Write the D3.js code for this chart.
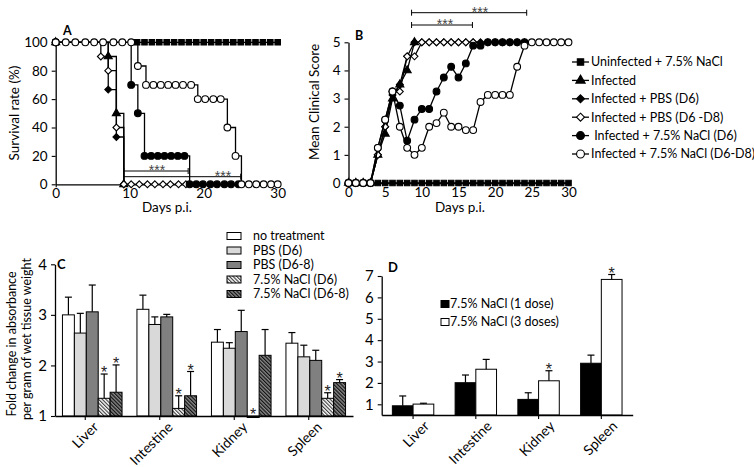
<!DOCTYPE html>
<html><head><meta charset="utf-8">
<script src="https://cdn.jsdelivr.net/npm/d3@7"></script>
<style>
body{margin:0;background:#fff}
svg{display:block;font-family:Lato,"Open Sans",sans-serif}
</style></head><body>
<svg id="c" width="754" height="467"></svg>
<script>
// ================= DATA =================
// Panel A – survival (%) ; marker days and values for each group
const aUninfDays = [0,11,12,13,14,15,16,17,18,19,20,21,22,23,24,25,26,27,28,29,30];
const aUninfVals = [100,100,100,100,100,100,100,100,100,100,100,100,100,100,100,100,100,100,100,100,100];
const aInfDays = [0,7.1,8.2,9.2];
const aInfVals = [100,90,50,0];
const aPbsD6Days = [0,7.1,8.2,9.2];
const aPbsD6Vals = [100,66.7,33.3,0];
const aPbsD68Days = [0,6.1,7.1,8.2,9.2,10.2,11.3,12.4,13.4,14.5,15.5,16.6,17.6];
const aPbsD68Vals = [100,90,80,40,0,0,0,0,0,0,0,0,0];
const aNaclD6Days = [0,10.2,11.1,12,12.9,13.8,14.7,15.6,16.5,17.4,18.1,19,19.9,20.9,21.8,22.8,23.7,24.7];
const aNaclD6Vals = [100,70,50,20,20,20,20,20,20,20,0,0,0,0,0,0,0,0];
const aNaclD68Days = [0,1.35,2.65,4,5.2,6.4,7.8,9,10.2,11.1,12.2,13.2,14.2,15.2,16.2,17.2,18.3,19.2,20.2,21.3,22.3,23.2,24.3,25.1,26.1,27.1,28.1,29.1,30];
const aNaclD68Vals = [100,100,100,100,100,100,100,100,100,83.3,70,70,70,70,70,70,70,60,60,60,60,40,20,0,0,0,0,0,0];
const aXTicks = [0,10,20,30];
const aYTicks = [0,20,40,60,80,100];
const aBrackets = [[9.2,17.9],[9.2,25.0]];

// Panel B – mean clinical score by day
const bUninfDays = [0,1,2,3,4,5,6,7,8,9,10,11,12,13,14,15,16,17,18,19,20,21,22,23,24,25,26,27,28,29,30];
const bUninfVals = [0,0,0,0,0,0,0,0,0,0,0,0,0,0,0,0,0,0,0,0,0,0,0,0,0,0,0,0,0,0,0];
const bInfDays = [0,1,2,3,4,5,6,7,8,9];
const bInfVals = [0,0,0,0,1.0,1.75,3.0,3.5,4.0,5];
const bPbsD6Days = [0,1,2,3,4,5,6,7,8,9,10,11,12,13,14,15,16,17,18,19,20,21,22,23,24];
const bPbsD6Vals = [0,0,0,0,1.0,2.0,3.13,3.5,4.5,5,5,5,5,5,5,5,5,5,5,5,5,5,5,5,5];
const bPbsD68Days = [0,1,2,3,4,5,6,7,8,9,10,11,12,13,14,15,16,17];
const bPbsD68Vals = [0,0,0,0,1.0,2.0,3.25,3.25,4.5,4.5,5,5,5,5,5,5,5,5];
const bNaclD6Days = [0,1,2,3,4,5,6,7,8,9,10,11,12,13,14,15,16,17,18,19,20,21,22,23,24];
const bNaclD6Vals = [0,0,0,0,1.25,2.25,3.25,2.75,1.5,2.25,2.63,2.63,3.25,3.75,4.13,3.75,4.25,4.88,4.88,5,5,5,5,5,5];
const bNaclD68Days = [0,1,2,3,4,5,6,7,8,9,10,11,12,13,14,15,16,17,18,19,20,21,22,23,24,25,26,27,28,29,30];
const bNaclD68Vals = [0,0,0,0,1.25,2.25,3.25,2.0,1.25,1.0,1.25,2.0,2.13,2.5,2.0,2.0,1.88,1.88,2.88,3.13,3.13,3.13,3.13,4.13,4.88,5,5,5,5,5,5];
const bXTicks = [0,5,10,15,20,25,30];
const bYTicks = [0,1,2,3,4,5];
const bBrackets = [[8.6,24.3],[8.6,16.9]];

const seriesNames = ["Uninfected + 7.5% NaCl","Infected","Infected + PBS (D6)","Infected + PBS (D6 -D8)"," Infected + 7.5% NaCl (D6)","Infected + 7.5% NaCl (D6-D8)"];

// Panel C – fold change in absorbance per gram of wet tissue
const cCats = ["Liver","Intestine","Kidney","Spleen"];
const cGroups = ["no treatment","PBS (D6)","PBS (D6-8)","7.5% NaCl (D6)","7.5% NaCl (D6-8)"];
const cNoTreat = [3.0,3.11,2.46,2.44];
const cNoTreatErr = [0.35,0.28,0.25,0.21];
const cPbsD6 = [2.64,2.81,2.34,2.17];
const cPbsD6Err = [0.39,0.15,0.11,0.23];
const cPbsD68 = [3.06,2.96,2.67,2.10];
const cPbsD68Err = [0.53,0.05,0.42,0.20];
const cNaclD6 = [1.35,1.15,0.97,1.35];
const cNaclD6Err = [0.48,0.25,0.0,0.11];
const cNaclD68 = [1.47,1.40,2.20,1.66];
const cNaclD68Err = [0.54,0.48,0.51,0.06];
const cNaclD6Sig = [true,true,true,true];
const cNaclD68Sig = [true,true,false,true];
const cYTicks = [1,2,3,4];

// Panel D
const dCats = ["Liver","Intestine","Kidney","Spleen"];
const dGroups = ["7.5% NaCl (1 dose)","7.5% NaCl (3 doses)"];
const dOneDose = [0.93,2.01,1.23,2.92];
const dOneDoseErr = [0.46,0.36,0.31,0.38];
const dThreeDoses = [1.01,2.64,2.10,6.84];
const dThreeDosesErr = [0.04,0.46,0.47,0.23];
const dOneSig = [false,false,false,false];
const dThreeSig = [false,false,true,true];
const dYTicks = [1,2,3,4,5,6,7];

// ================= DRAW =================
const FONT = "Lato, 'Open Sans', sans-serif";
const STAR_FONT = "'Liberation Sans', Arial, sans-serif";
const svg = d3.select("#c");
const defs = svg.append("defs");
function hatch(id, bg, line, w){
  const p = defs.append("pattern").attr("id",id).attr("patternUnits","userSpaceOnUse")
    .attr("width",2.6).attr("height",2.6).attr("patternTransform","rotate(-45)");
  p.append("rect").attr("width",2.6).attr("height",2.6).attr("fill",bg);
  p.append("line").attr("x1",0.6).attr("x2",0.6).attr("y1",0).attr("y2",2.6).attr("stroke",line).attr("stroke-width",w);
}
hatch("h1","#ffffff","#222",1.0);
hatch("h2","#8a8a8a","#111",1.2);

const diamond = d3.symbolDiamond2 || d3.symbolDiamond;
const styles = [
  {sym:d3.symbolSquare, fill:"#000", size:30},
  {sym:d3.symbolTriangle, fill:"#000", size:28},
  {sym:diamond, fill:"#000", size:30},
  {sym:diamond, fill:"#fff", size:30},
  {sym:d3.symbolCircle, fill:"#000", size:36},
  {sym:d3.symbolCircle, fill:"#fff", size:36}
];

function styleAxis(g, fs){
  g.select(".domain").attr("stroke","#000").attr("stroke-width",1.3);
  g.selectAll(".tick line").attr("stroke","#000").attr("stroke-width",1.1);
  g.selectAll(".tick text").attr("fill","#000").style("font-size",fs+"px").style("font-family",FONT);
}

function linePanel(xs, ys, days, vals, curve, xTicks, yTicks){
  const g = svg.append("g");
  const gx = g.append("g").attr("transform",`translate(0,${ys(0)})`)
    .call(d3.axisBottom(xs).tickValues(xTicks).tickFormat(d3.format("d")).tickSize(3).tickSizeOuter(0).tickPadding(1));
  styleAxis(gx, 13.5);
  const gy = g.append("g").attr("transform",`translate(${xs(0)},0)`)
    .call(d3.axisLeft(ys).tickValues(yTicks).tickFormat(d3.format("d")).tickSize(4).tickSizeOuter(0).tickPadding(4));
  styleAxis(gy, 13.5);
  days.forEach((dd,i)=>{
    const pts = dd.map((d,j)=>[d, vals[i][j]]);
    const st = styles[i];
    g.append("path").datum(pts)
      .attr("d", d3.line().x(p=>xs(p[0])).y(p=>ys(p[1])).curve(curve))
      .attr("fill","none").attr("stroke","#000").attr("stroke-width",1.3);
    g.selectAll(null).data(pts).join("path")
      .attr("transform",p=>`translate(${xs(p[0])},${ys(p[1])})`)
      .attr("d", d3.symbol().type(st.sym).size(st.size))
      .attr("fill",st.fill).attr("stroke","#000").attr("stroke-width",1.1);
  });
  return g;
}

function bracket(g, xs, x0, x1, y, sx){
  g.append("line").attr("x1",xs(x0)).attr("x2",xs(x1)).attr("y1",y).attr("y2",y).attr("stroke","#000").attr("stroke-width",1);
  [x0,x1].forEach(v=>g.append("line").attr("x1",xs(v)).attr("x2",xs(v)).attr("y1",y-3).attr("y2",y+3).attr("stroke","#000").attr("stroke-width",1));
  g.append("text").attr("x",sx).attr("y",y+4).attr("text-anchor","middle")
    .style("font-size","14px").style("font-family",STAR_FONT).attr("fill","#444").text("***");
}

// ---- Panel A ----
const ax = d3.scaleLinear().domain([0,30]).range([55.7,277.7]);
const ay = d3.scaleLinear().domain([0,100]).range([184.3,42.3]);
const gA = linePanel(ax, ay,
  [aUninfDays,aInfDays,aPbsD6Days,aPbsD68Days,aNaclD6Days,aNaclD68Days],
  [aUninfVals,aInfVals,aPbsD6Vals,aPbsD68Vals,aNaclD6Vals,aNaclD68Vals],
  d3.curveStepAfter, aXTicks, aYTicks);
bracket(gA, ax, aBrackets[0][0], aBrackets[0][1], 171, 157);
bracket(gA, ax, aBrackets[1][0], aBrackets[1][1], 176.7, 223);
svg.append("text").attr("x",63).attr("y",35).style("font-size","12.5px").style("font-weight","bold").text("A");
svg.append("text").attr("x",167).attr("y",212).attr("text-anchor","middle").style("font-size","13.5px").text("Days p.i.");
svg.append("text").attr("transform","translate(19,113) rotate(-90)").attr("text-anchor","middle").style("font-size","13.5px").text("Survival rate (%)");

// ---- Panel B ----
const bx = d3.scaleLinear().domain([0,30]).range([348.5,568.5]);
const by = d3.scaleLinear().domain([0,5]).range([183,42.3]);
const gB = linePanel(bx, by,
  [bUninfDays,bInfDays,bPbsD6Days,bPbsD68Days,bNaclD6Days,bNaclD68Days],
  [bUninfVals,bInfVals,bPbsD6Vals,bPbsD68Vals,bNaclD6Vals,bNaclD68Vals],
  d3.curveLinear, bXTicks, bYTicks);
bracket(gB, bx, bBrackets[0][0], bBrackets[0][1], 12.7, 480);
bracket(gB, bx, bBrackets[1][0], bBrackets[1][1], 25, 445);
svg.append("text").attr("x",355).attr("y",39.5).style("font-size","12.5px").style("font-weight","bold").text("B");
svg.append("text").attr("x",460).attr("y",212).attr("text-anchor","middle").style("font-size","13.5px").text("Days p.i.");
svg.append("text").attr("transform","translate(319,102) rotate(-90)").attr("text-anchor","middle").style("font-size","13.5px").text("Mean Clinical Score");

// legend for A/B
const lg = svg.append("g");
seriesNames.forEach((n,i)=>{
  const y = 62 + i*18.4;
  const st = styles[i];
  lg.append("line").attr("x1",572).attr("x2",589).attr("y1",y).attr("y2",y).attr("stroke","#000").attr("stroke-width",1.3);
  lg.append("path").attr("transform",`translate(580.5,${y})`).attr("d",d3.symbol().type(st.sym).size(st.size*1.35))
    .attr("fill",st.fill).attr("stroke","#000").attr("stroke-width",1.1);
  lg.append("text").attr("x",591).attr("y",y).attr("dy","0.35em").style("font-size","12.5px").attr("xml:space","preserve").text(n);
});

// ---- Panel C ----
const cy = d3.scaleLinear().domain([1,4]).range([416,264.3]);
const cx = d3.scaleBand().domain(cCats).range([55,353]).paddingInner(0.2).paddingOuter(0.1);
const cInner = d3.scaleBand().domain(cGroups).range([0,cx.bandwidth()]);
const cFills = ["#fff","#d9d9d9","#808080","url(#h1)","url(#h2)"];
const cVals = [cNoTreat,cPbsD6,cPbsD68,cNaclD6,cNaclD68];
const cErrs = [cNoTreatErr,cPbsD6Err,cPbsD68Err,cNaclD6Err,cNaclD68Err];
const cSig = [null,null,null,cNaclD6Sig,cNaclD68Sig];

function barPanel(xs, inner, ys, base, vals, errs, sigs, fills, cats, groups, yTicks, labelOff, tickOff){
  const g = svg.append("g");
  groups.forEach((gn,k)=>{
    cats.forEach((c,i)=>{
      const v = vals[k][i];
      const x0 = xs(c)+inner(gn), w = inner.bandwidth();
      const top = Math.min(ys(v), ys(base));
      g.append("rect").attr("x",x0).attr("y",top).attr("width",w).attr("height",Math.abs(ys(v)-ys(base)))
        .attr("fill",fills[k]).attr("stroke","#000").attr("stroke-width",1);
      const e = errs[k][i];
      const cxm = x0 + w/2;
      let et = top;
      if(e>0){
        et = ys(v+e);
        g.append("line").attr("x1",cxm).attr("x2",cxm).attr("y1",ys(v)).attr("y2",et).attr("stroke","#000").attr("stroke-width",1.2);
        g.append("line").attr("x1",cxm-3.5).attr("x2",cxm+3.5).attr("y1",et).attr("y2",et).attr("stroke","#000").attr("stroke-width",1.2);
      }
      if(sigs[k] && sigs[k][i]){
        g.append("text").attr("x",cxm).attr("y",et+4).attr("text-anchor","middle")
          .style("font-size","16px").style("font-family",STAR_FONT).attr("fill","#222").text("*");
      }
    });
  });
  const gx = g.append("g").attr("transform",`translate(0,${ys(base)})`)
    .call(d3.axisBottom(xs).tickSize(0).tickFormat(""));
  gx.select(".domain").attr("stroke","#000").attr("stroke-width",1.3);
  cats.forEach(c=>{
    const m = xs(c)+xs.bandwidth()/2;
    g.append("line").attr("x1",m+tickOff).attr("x2",m+tickOff).attr("y1",ys(base)).attr("y2",ys(base)+4).attr("stroke","#000").attr("stroke-width",1.1);
    g.append("text").attr("transform",`translate(${m+labelOff},${ys(base)+12}) rotate(-45)`)
      .attr("text-anchor","end").style("font-size","14px").text(c);
  });
  const gy = g.append("g").attr("transform",`translate(${xs.range()[0]},0)`)
    .call(d3.axisLeft(ys).tickValues(yTicks).tickFormat(d3.format("d")).tickSize(4).tickSizeOuter(0).tickPadding(4));
  styleAxis(gy, 15);
  return g;
}
barPanel(cx, cInner, cy, 1, cVals, cErrs, cSig, cFills, cCats, cGroups, cYTicks, 7, -7);
svg.append("text").attr("x",57).attr("y",268.5).style("font-size","13px").style("font-weight","bold").text("C");
svg.append("text").attr("transform","translate(16,344) rotate(-90)").attr("text-anchor","middle").style("font-size","12.5px").text("Fold change in absorbance");
svg.append("text").attr("transform","translate(31,339) rotate(-90)").attr("text-anchor","middle").style("font-size","12.5px").text("per gram of wet tissue weight");
const lc = svg.append("g");
cGroups.forEach((n,i)=>{
  const y = 236 + i*14.5;
  lc.append("rect").attr("x",227).attr("y",y-3.5).attr("width",14).attr("height",7).attr("fill",cFills[i]).attr("stroke","#000").attr("stroke-width",1);
  lc.append("text").attr("x",253).attr("y",y).attr("dy","0.35em").style("font-size","12.5px").text(n);
});

// ---- Panel D ----
const dy = d3.scaleLinear().domain([0.5,7]).range([415,276]);
const dx = d3.scaleBand().domain(dCats).range([381.7,632.7]).paddingInner(0.34).paddingOuter(0.17);
const dInner = d3.scaleBand().domain(dGroups).range([0,dx.bandwidth()]);
const dFills = ["#000","#fff"];
barPanel(dx, dInner, dy, 0.5, [dOneDose,dThreeDoses], [dOneDoseErr,dThreeDosesErr], [dOneSig,dThreeSig], dFills, dCats, dGroups, dYTicks, 17, 0);
svg.append("text").attr("x",388).attr("y",272).style("font-size","13px").style("font-weight","bold").text("D");
const ld = svg.append("g");
dGroups.forEach((n,i)=>{
  const y = 304 + i*18;
  ld.append("rect").attr("x",441).attr("y",y-3.5).attr("width",8).attr("height",7).attr("fill",dFills[i]).attr("stroke","#000").attr("stroke-width",1);
  ld.append("text").attr("x",450).attr("y",y).attr("dy","0.35em").style("font-size","12.5px").text(n);
});
</script>
</body></html>
